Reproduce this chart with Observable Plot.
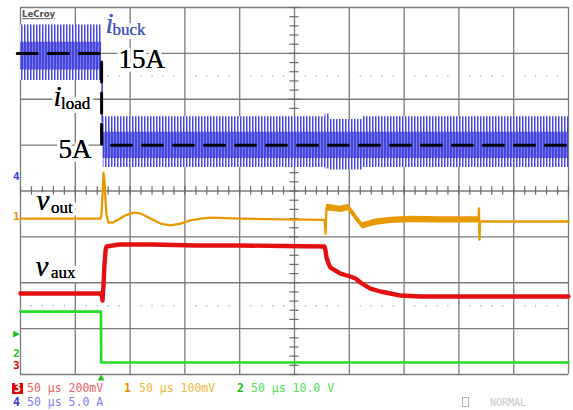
<!DOCTYPE html>
<html><head><meta charset="utf-8">
<script src="https://cdn.jsdelivr.net/npm/d3@7"></script>
<script src="https://cdn.jsdelivr.net/npm/@observablehq/plot@0.6"></script>
<style>
body{margin:0;background:#fff;width:573px;height:410px;overflow:hidden}
#wrap{position:relative;width:573px;height:410px}
#chart svg{display:block}
.lg{position:absolute;font-family:"DejaVu Sans Mono",monospace;font-size:11.5px;white-space:pre;line-height:11px}
</style></head><body>
<div id="wrap"><div id="chart"></div><div id="legend"></div></div>
<script>
// time in µs (50 µs/div), vertical in screen divisions (0 = centre line)
const gridT = [0,50,100,150,200,250,300,350,400,450,500];
const gridDiv = [-4,-3,-2,-1,0,1,2,3,4];

// i_buck ripple envelope (A), 5 A/div, 0 A on the centre line
const ibT       = [0,     74,   75.5, 278,  282,  312,  500];
const ibMax     = [18.1,  12.1, 8.1,  8.4,  7.8,  8.1,  8.1];
const ibMin     = [12.05, 7.5,  2.56, 2.4,  2.3,  2.56, 2.56];
const ibCoreMax = [16.2,  12.1, 6.4,  6.4,  6.4,  6.4,  6.4];
const ibCoreMin = [13.2,  7.5,  3.54, 3.54, 3.54, 3.54, 3.54];

// i_load reference (A)
const iloadT = [-3, 74, 74, 505];
const iloadA = [15, 15, 5, 5];

// v_out trace (div)
const voutT = [0,73,73.9,74.8,75.7,76.6,77.6,78.5,80.3,83.9,89.4,95.8,103.1,109.5,118.6,127.7,136.9,146,155.1,164.2,173.4,200.7,237.2,277.4,278.3,279.2,282.8,292,299.3,302.9,306.6,312,317.5,323.9,337.6,355.8,383.2,417.9,418.3,418.8,419.3,438,500];
const voutV = [-0.6,-0.6,-0.51,-0.1,0.4,0.23,-0.21,-0.53,-0.69,-0.69,-0.62,-0.53,-0.47,-0.49,-0.6,-0.71,-0.75,-0.71,-0.64,-0.6,-0.58,-0.6,-0.62,-0.63,-0.93,-0.36,-0.32,-0.4,-0.36,-0.45,-0.6,-0.76,-0.74,-0.68,-0.64,-0.62,-0.63,-0.63,-0.38,-1.06,-0.66,-0.665,-0.665];
// v_out noise band
const voutBandT  = [279.2,292,299.3,306.6,312,323.9,337.6,355.8,383.2,417.9];
const voutBandHi = [-0.29,-0.33,-0.29,-0.53,-0.69,-0.61,-0.57,-0.55,-0.56,-0.56];
const voutBandLo = [-0.43,-0.47,-0.43,-0.67,-0.83,-0.75,-0.71,-0.69,-0.70,-0.70];

// v_aux trace (div)
const vauxT = [0,73.9,74.8,75.7,76.6,77.6,78.5,90,120,160,200,240,277.4,278.3,279.2,281,282.8,292,301,305.7,310.2,319.3,328.5,337.6,346.7,365,500];
const vauxV = [-2.234,-2.234,-2.387,-2.06,-1.624,-1.297,-1.21,-1.166,-1.166,-1.188,-1.188,-1.199,-1.21,-1.3,-1.45,-1.58,-1.668,-1.799,-1.864,-1.908,-1.995,-2.126,-2.191,-2.234,-2.279,-2.3,-2.3];

// channel 2 (gate) trace (div)
const vgT = [0, 73.4, 73.6, 500];
const vgV = [-2.63, -2.63, -3.74, -3.74];

// annotations
const valueLabels = [{t:89.4, d:2.68, s:"15A"}, {t:34.7, d:0.73, s:"5A"}];
const symLabels = [
  {t:77.6, d:3.455, s:"i", sub:"buck", st:83.9, sd:3.39, c:"#3c55c0"},
  {t:30.1, d:1.842, s:"i", sub:"load", st:37.0, sd:1.777, c:"#000"},
  {t:14.6, d:-0.425, s:"v", sub:"out", st:27.8, sd:-0.469, c:"#000"},
  {t:13.7, d:-1.842, s:"v", sub:"aux", st:27.8, sd:-1.886, c:"#000"}
];
const chanMarks = [
  {d:0.316, s:"4", c:"#3838d8"},
  {d:-0.556, s:"1", c:"#e09000"},
  {d:-3.106, s:"\u25B6", c:"#20c020"},
  {d:-3.542, s:"2", c:"#20c020"},
  {d:-3.80, s:"3", c:"#e00000"}
];

const ib = ibT.map((t,i)=>({t, hi:ibMax[i], lo:ibMin[i], chi:ibCoreMax[i], clo:ibCoreMin[i]}));
const iload = iloadT.map((t,i)=>({t, a:iloadA[i]}));
const vout = voutT.map((t,i)=>({t, v:voutV[i]}));
const voutBand = voutBandT.map((t,i)=>({t, hi:voutBandHi[i], lo:voutBandLo[i]}));
const vaux = vauxT.map((t,i)=>({t, v:vauxV[i]}));
const vg = vgT.map((t,i)=>({t, v:vgV[i]}));

const subT = d3.range(0, 501, 10);
const subDiv = d3.range(-4, 4.01, 0.2);
const dotPts = [];
for (const t of subT) if (t % 50 !== 0) for (const d of [-2.5, 2.5]) dotPts.push({t, d});

const serif = "Liberation Serif, Times New Roman, serif";
const A2div = a => a / 5;
const orange = "#e69a00";

const svg = Plot.plot({
  width: 573, height: 380,
  marginLeft: 20, marginRight: 5, marginTop: 7, marginBottom: 6,
  x: {domain: [0, 500], axis: null},
  y: {domain: [-4, 4], axis: null},
  marks: [
    Plot.ruleX(gridT, {stroke: "#7a7a7a", strokeWidth: 1.3}),
    Plot.ruleY(gridDiv, {stroke: "#7a7a7a", strokeWidth: 1.3}),
    Plot.ruleX(subT, {x: d => d, y1: -0.09, y2: 0.09, stroke: "#6a6a6a", strokeWidth: 1.2}),
    Plot.ruleY(subDiv, {y: d => d, x1: 245.9, x2: 254.1, stroke: "#6a6a6a", strokeWidth: 1.2}),
    Plot.dot(dotPts, {x: "t", y: "d", r: 0.7, fill: "#a0a0a0", stroke: null}),
    // i_buck ripple
    Plot.areaY(ib, {x: "t", y1: d => A2div(d.lo), y2: d => A2div(d.hi), curve: "step-after", fill: "url(#ibOuter)"}),
    Plot.areaY(ib, {x: "t", y1: d => A2div(d.clo), y2: d => A2div(d.chi), curve: "step-after", fill: "url(#ibCore)"}),
    // v_out
    Plot.areaY(voutBand, {x: "t", y1: "lo", y2: "hi", fill: orange}),
    Plot.line(vout, {x: "t", y: "v", stroke: orange, strokeWidth: 2.3}),
    // v_aux
    Plot.line(vaux, {x: "t", y: "v", stroke: "#e41010", strokeWidth: 4.4}),
    // gate
    Plot.line(vg, {x: "t", y: "v", stroke: "#22dd22", strokeWidth: 2.6}),
    // i_load reference
    Plot.line(iload, {x: "t", y: d => A2div(d.a), stroke: "#000", strokeWidth: 3, strokeDasharray: "20,11"}),
    // labels (white halo first, then glyphs)
    Plot.text(valueLabels, {x: "t", y: "d", text: "s", textAnchor: "start", lineAnchor: "bottom", fontFamily: serif, fontSize: 27, fill: "#000", stroke: "white", strokeWidth: 7}),
    Plot.text(symLabels, {x: "t", y: "d", text: "s", textAnchor: "start", lineAnchor: "bottom", fontFamily: serif, fontStyle: "italic", fontSize: 29, fill: d => d.c, stroke: "white", strokeWidth: 8}),
    Plot.text(symLabels, {x: "st", y: "sd", text: "sub", textAnchor: "start", lineAnchor: "bottom", fontFamily: serif, fontSize: 17, fill: d => d.c, stroke: "white", strokeWidth: 8}),
    Plot.text(symLabels, {x: "t", y: "d", text: "s", textAnchor: "start", lineAnchor: "bottom", fontFamily: serif, fontStyle: "italic", fontSize: 29, fill: d => d.c}),
    Plot.text(symLabels, {x: "st", y: "sd", text: "sub", textAnchor: "start", lineAnchor: "bottom", fontFamily: serif, fontSize: 17, fill: d => d.c}),
    Plot.text(valueLabels, {x: "t", y: "d", text: "s", textAnchor: "start", lineAnchor: "bottom", fontFamily: serif, fontSize: 27, fill: "#000"}),
    // channel markers in the left margin
    Plot.text(chanMarks, {x: 0, y: "d", text: "s", textAnchor: "end", dx: -1, fontFamily: "DejaVu Sans Mono, monospace", fontWeight: "bold", fontSize: 11, fill: d => d.c}),
    // trigger marker
    Plot.dot([73.5], {x: d => d, y: -4, dy: 4, symbol: "triangle", r: 2.6, fill: "#20c020", stroke: null}),
    // logo
    Plot.text(["LeCroy"], {frameAnchor: "top-left", dx: 1.5, dy: 3, lineAnchor: "top", text: d => d, fontFamily: "DejaVu Sans Condensed, DejaVu Sans, sans-serif", fontWeight: "bold", fontSize: 9.5, fill: "#505050"})
  ]
});

// ripple texture patterns
const defs = d3.select(svg).insert("defs", ":first-child");
const po = defs.append("pattern").attr("id", "ibOuter").attr("patternUnits", "userSpaceOnUse").attr("width", 3).attr("height", 4);
po.append("rect").attr("width", 3).attr("height", 4).attr("fill", "#ffffff");
po.append("rect").attr("x", 0).attr("width", 1).attr("height", 4).attr("fill", "#4646e0");
po.append("rect").attr("x", 1).attr("width", 1).attr("height", 4).attr("fill", "#a2a2f2");
const pc = defs.append("pattern").attr("id", "ibCore").attr("patternUnits", "userSpaceOnUse").attr("width", 3).attr("height", 4);
pc.append("rect").attr("width", 3).attr("height", 4).attr("fill", "#4444df");
pc.append("rect").attr("x", 2).attr("width", 1).attr("height", 4).attr("fill", "#7c7cea");

d3.select(svg).selectAll("text").attr("paint-order", "stroke").attr("stroke-linejoin", "round");
d3.select(svg).selectAll("text").filter(function(){ return this.textContent === "LeCroy"; }).style("text-decoration", "underline");
d3.select(svg).style("overflow", "visible");
document.getElementById("chart").appendChild(svg);

// scope channel legend
const legendItems = [
  {x: 12, y: 382.5, s: "3", c: "#fff", bg: "#e00000"},
  {x: 27, y: 382.5, s: "50 \u03bcs 200mV", c: "#f06060"},
  {x: 124, y: 382.5, s: "1", c: "#e09000", bold: true},
  {x: 139, y: 382.5, s: "50 \u03bcs 100mV", c: "#f0b840"},
  {x: 237, y: 382.5, s: "2", c: "#20c020", bold: true},
  {x: 251, y: 382.5, s: "50 \u03bcs 10.0 V", c: "#50e050"},
  {x: 13, y: 396.5, s: "4", c: "#3838d8", bold: true},
  {x: 27, y: 396.5, s: "50 \u03bcs 5.0 A", c: "#8080f0"},
  {x: 490, y: 397, s: "NORMAL", c: "#c8c8c8", small: true}
];
const lg = document.getElementById("legend");
for (const it of legendItems) {
  const s = document.createElement("span");
  s.className = "lg";
  s.textContent = it.s;
  s.style.left = it.x + "px";
  s.style.top = it.y + "px";
  s.style.color = it.c;
  if (it.bg) { s.style.background = it.bg; s.style.padding = "0 2px"; s.style.fontWeight = "bold"; }
  if (it.bold) s.style.fontWeight = "bold";
  if (it.small) { s.style.fontSize = "10px"; }
  lg.appendChild(s);
}
const sq = document.createElement("div");
sq.style.cssText = "position:absolute;left:462px;top:397px;width:5px;height:8px;border:1px solid #b0b0b0";
lg.appendChild(sq);
</script>
</body></html>
